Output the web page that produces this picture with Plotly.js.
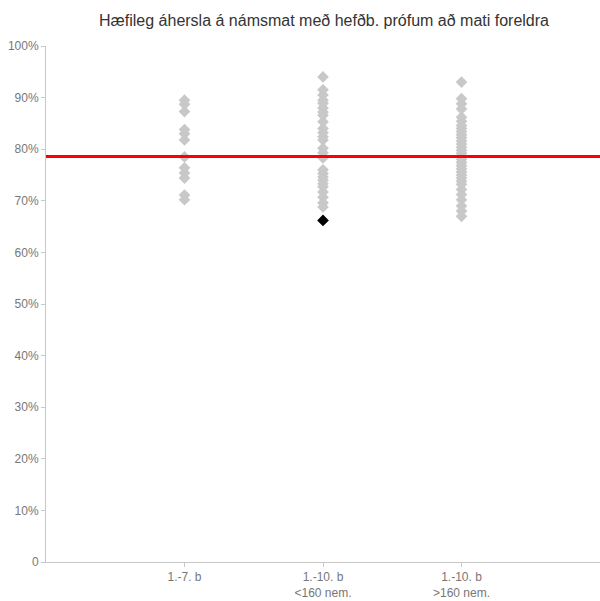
<!DOCTYPE html>
<html>
<head>
<meta charset="utf-8">
<script src="https://cdn.plot.ly/plotly-3.0.1.min.js"></script>
<style>html,body{margin:0;padding:0;background:#fff;}#chart{width:600px;height:601px;}</style>
</head>
<body>
<div id="chart"></div>
<script>
const categories = ["1.-7. b", "1.-10. b<br>&lt;160 nem.", "1.-10. b<br>&gt;160 nem."];
const group1 = [89.5, 88.7, 87.3, 83.8, 83.0, 81.8, 78.5, 76.4, 75.4, 74.4, 71.1, 70.2];
const group2 = [94.0, 91.5, 90.5, 89.5, 88.9, 88.0, 87.2, 86.6, 85.3, 84.0, 83.2, 82.4, 81.8, 80.2, 79.3, 78.3, 76.0, 75.3, 74.6, 74.0, 73.3, 72.7, 71.7, 70.7, 69.6, 68.8];
const group3 = [93.0, 89.8, 88.8, 87.8, 86.2, 85.4, 84.6, 84.0, 83.4, 82.8, 82.2, 81.6, 81.0, 80.4, 79.8, 79.2, 78.6, 78.0, 77.4, 76.8, 76.2, 75.6, 75.0, 74.4, 73.8, 73.2, 72.2, 71.2, 70.2, 69.0, 68.0, 67.0];
const highlightCat = [categories[1]];
const highlightVal = [66.2];
const referenceValue = 78.6;
const yTickVals = [0, 10, 20, 30, 40, 50, 60, 70, 80, 90, 100];
const yTickText = ["0", "10%", "20%", "30%", "40%", "50%", "60%", "70%", "80%", "90%", "100%"];

const grey = {symbol: "diamond", size: 9, color: "#c8c8c8"};
const traces = [
  {x: group1.map(() => categories[0]), y: group1, type: "scatter", mode: "markers", marker: grey, hoverinfo: "y"},
  {x: group2.map(() => categories[1]), y: group2, type: "scatter", mode: "markers", marker: grey, hoverinfo: "y"},
  {x: group3.map(() => categories[2]), y: group3, type: "scatter", mode: "markers", marker: grey, hoverinfo: "y"},
  {x: highlightCat, y: highlightVal, type: "scatter", mode: "markers", marker: {symbol: "diamond", size: 9, color: "#000"}, hoverinfo: "y"}
];

const layout = {
  width: 600, height: 601,
  margin: {l: 46, r: 0, t: 46, b: 39},
  paper_bgcolor: "#fff", plot_bgcolor: "#fff",
  showlegend: false,
  font: {family: "Liberation Sans, Arial, sans-serif", color: "#666", size: 12},
  title: {text: "Hæfileg áhersla á námsmat með hefðb. prófum að mati foreldra", font: {size: 16, color: "#333"}, x: 0.54, xanchor: "center", y: 0.975, yanchor: "top"},
  xaxis: {
    type: "category", categoryorder: "array", categoryarray: categories,
    range: [-1, 3], showgrid: false, zeroline: false,
    showline: true, linecolor: "#c8c8c8", linewidth: 1,
    ticks: "outside", ticklen: 4, tickcolor: "#c8c8c8",
    tickfont: {size: 12, color: "#777"}
  },
  yaxis: {
    range: [0, 100], showgrid: false, zeroline: false,
    showline: true, linecolor: "#c8c8c8", linewidth: 1,
    ticks: "outside", ticklen: 4, tickcolor: "#c8c8c8",
    tickvals: yTickVals, ticktext: yTickText,
    tickfont: {size: 12, color: "#777"}
  },
  shapes: [{type: "line", xref: "paper", x0: 0, x1: 1, yref: "y", y0: referenceValue, y1: referenceValue, line: {color: "#ff0000", width: 3}}]
};
Plotly.newPlot("chart", traces, layout, {displayModeBar: false, staticPlot: true});
</script>
</body>
</html>
